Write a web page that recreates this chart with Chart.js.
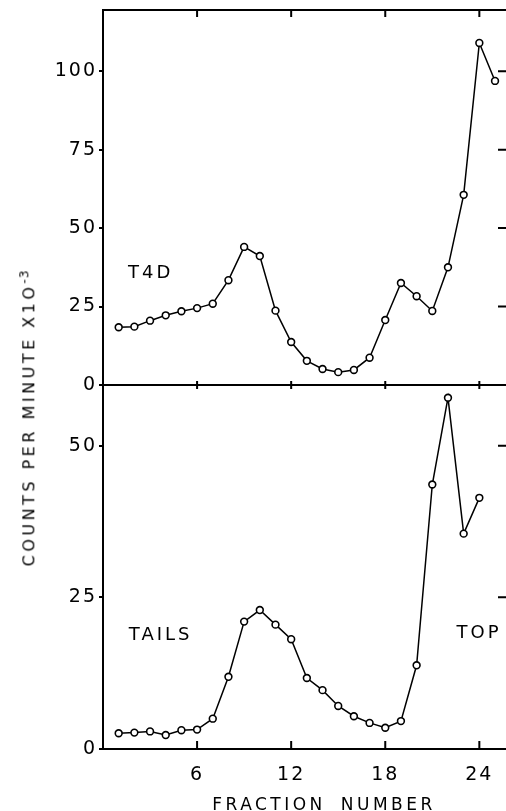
<!DOCTYPE html>
<html lang="en">
<head>
<meta charset="UTF-8">
<title>Counts per fraction - T4D and tails</title>
<script src="https://cdn.jsdelivr.net/npm/chart.js"></script>
<style>
body { margin: 0; background: #fff; }
#wrap {
    position: relative;
    width: 506px;
    height: 811px;
    overflow: hidden;
    font-family: 'DejaVu Sans', sans-serif;
    color: #000;
}
#topChart { position: absolute; left: 0; top: 0; }
#bottomChart { position: absolute; left: 0; top: 385px; }
.ytitle {
    position: absolute;
    left: 28px;
    top: 418px;
    transform: translate(-50%, -50%) rotate(-90deg);
    white-space: nowrap;
    font-size: 16px;
    letter-spacing: 3.5px;
}
.ytitle sup { font-size: 12px; letter-spacing: 1px; }
.xtitle {
    position: absolute;
    left: 324px;
    top: 804px;
    transform: translate(-50%, -50%);
    white-space: nowrap;
    font-size: 17px;
    letter-spacing: 3.5px;
    word-spacing: 6px;
}
</style>
</head>
<body>
<div id="wrap">
    <canvas id="topChart" width="506" height="395"></canvas>
    <canvas id="bottomChart" width="506" height="426"></canvas>
    <div class="ytitle">COUNTS PER MINUTE X1O<sup>-3</sup></div>
    <div class="xtitle">FRACTION NUMBER</div>
</div>

<script>
// fraction numbers
const t4dFractions = [1,2,3,4,5,6,7,8,9,10,11,12,13,14,15,16,17,18,19,20,21,22,23,24,25];
const tailsFractions = [1,2,3,4,5,6,7,8,9,10,11,12,13,14,15,16,17,18,19,20,21,22,23,24];

// counts per minute x10^-3
const t4dCounts = [18.4,18.6,20.5,22.2,23.5,24.5,25.9,33.4,44.0,41.1,23.7,13.7,7.7,5.1,4.1,4.8,8.7,20.7,32.5,28.3,23.6,37.5,60.6,109.0,96.9];
const tailsCounts = [2.6,2.7,2.9,2.3,3.1,3.2,5.0,11.9,21.0,22.9,20.5,18.1,11.7,9.7,7.1,5.4,4.3,3.5,4.6,13.8,43.6,57.9,35.5,41.4];

// text notes in data coordinates
const t4dNotes = [{ text: 'T4D', x: 1.6, y: 35.7 }];
const tailsNotes = [{ text: 'TAILS', x: 1.65, y: 18.8 }, { text: 'TOP', x: 22.55, y: 19.1 }];

const FONT = "'DejaVu Sans', sans-serif";

const frameTicks = {
    id: 'frameTicks',
    beforeDraw(chart) {
        chart.ctx.letterSpacing = '2px';
    },
    afterDatasetsDraw(chart, args, opts) {
        const ctx = chart.ctx;
        const a = chart.chartArea;
        const x = chart.scales.x, y = chart.scales.y;
        ctx.save();
        ctx.strokeStyle = '#000';
        ctx.lineWidth = 2;
        ctx.beginPath();
        if (opts.topBorder) {
            ctx.moveTo(a.left, a.top);
            ctx.lineTo(a.right, a.top);
        }
        x.ticks.forEach(t => {
            if (t.value <= 0) return;
            const px = x.getPixelForValue(t.value);
            if (opts.topBorder) {
                ctx.moveTo(px, a.top);
                ctx.lineTo(px, a.top + 7);
            }
            ctx.moveTo(px, a.bottom - opts.up);
            ctx.lineTo(px, a.bottom + opts.down);
        });
        y.ticks.forEach(t => {
            if (t.value <= 0) return;
            const py = y.getPixelForValue(t.value);
            ctx.moveTo(a.right - 8, py);
            ctx.lineTo(a.right, py);
        });
        ctx.stroke();

        ctx.font = '18px ' + FONT;
        ctx.letterSpacing = '3px';
        ctx.fillStyle = '#000';
        ctx.textBaseline = 'middle';
        ctx.textAlign = 'left';
        (opts.notes || []).forEach(n => {
            ctx.fillText(n.text, x.getPixelForValue(n.x), y.getPixelForValue(n.y));
        });
        ctx.restore();
    }
};

function lineDataset(xs, ys) {
    return {
        data: xs.map((v, i) => ({ x: v, y: ys[i] })),
        borderColor: '#000',
        borderWidth: 1.5,
        pointRadius: 3.4,
        pointBorderWidth: 1.6,
        pointBackgroundColor: '#fff',
        pointBorderColor: '#000',
        tension: 0,
        clip: false
    };
}

function makeChart(id, xs, ys, yMax, opts) {
    return new Chart(document.getElementById(id), {
        type: 'line',
        data: { datasets: [lineDataset(xs, ys)] },
        options: {
            responsive: false,
            animation: false,
            layout: {
                autoPadding: false,
                padding: { top: opts.padTop, right: 0, bottom: 0, left: 0 }
            },
            plugins: {
                legend: { display: false },
                tooltip: { enabled: false },
                frameTicks: opts.frame
            },
            scales: {
                x: {
                    type: 'linear',
                    min: 0,
                    max: 25.7,
                    afterFit: s => {
                        s.height = opts.xHeight;
                        s.paddingLeft = 0;
                        s.paddingRight = 0;
                    },
                    border: { display: true, color: '#000', width: 2 },
                    grid: { display: false },
                    ticks: {
                        display: opts.xLabels,
                        stepSize: 6,
                        includeBounds: false,
                        autoSkip: false,
                        maxRotation: 0,
                        color: '#000',
                        padding: 7,
                        font: { family: FONT, size: 19 },
                        callback: v => (v === 0 ? '' : v)
                    }
                },
                y: {
                    min: 0,
                    max: yMax,
                    afterFit: s => {
                        s.width = 103;
                        s.paddingTop = 0;
                        s.paddingBottom = 0;
                    },
                    border: { display: true, color: '#000', width: 2 },
                    grid: {
                        drawOnChartArea: false,
                        drawTicks: true,
                        tickLength: 4,
                        color: '#000',
                        lineWidth: 2
                    },
                    ticks: {
                        stepSize: 25,
                        includeBounds: false,
                        color: '#000',
                        padding: 2,
                        font: { family: FONT, size: 19 }
                    }
                }
            }
        },
        plugins: [frameTicks]
    });
}

makeChart('topChart', t4dFractions, t4dCounts, 119.5, {
    padTop: 10,
    xHeight: 10,
    xLabels: false,
    frame: { topBorder: true, up: 4, down: 4, notes: t4dNotes }
});

makeChart('bottomChart', tailsFractions, tailsCounts, 60, {
    padTop: 0,
    xHeight: 62,
    xLabels: true,
    frame: { topBorder: false, up: 8, down: 0, notes: tailsNotes }
});
</script>
</body>
</html>
